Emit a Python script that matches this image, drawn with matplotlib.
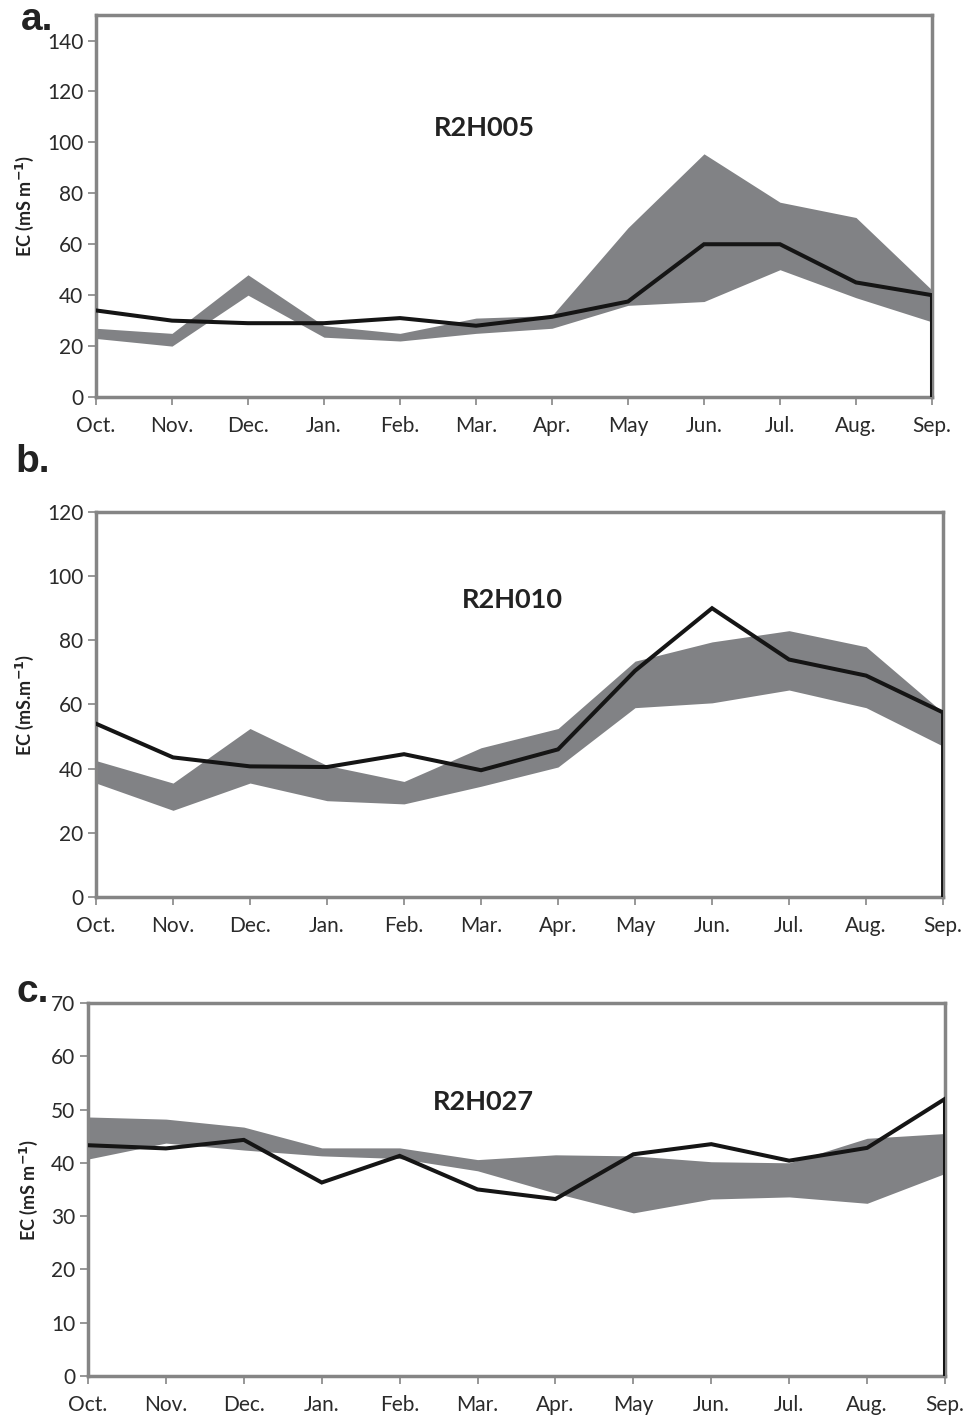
import matplotlib
matplotlib.use("Agg")
import matplotlib.pyplot as plt
import numpy as np

plt.rcParams['font.family'] = ['Lato', 'DejaVu Sans']

months = ["Oct.", "Nov.", "Dec.", "Jan.", "Feb.", "Mar.", "Apr.", "May", "Jun.", "Jul.", "Aug.", "Sep."]

# R2H005
a_low = [23, 20, 40, 23.5, 22, 25, 27, 36, 37.5, 50, 39, 29.5]
a_high = [27, 25, 48, 28, 25, 31, 32, 66.5, 95.5, 76.5, 70.5, 42]
a_obs = [34, 30, 29, 29, 31, 28, 31.5, 37.5, 60, 60, 45, 40]

# R2H010
b_low = [35.5, 27, 35.5, 30, 29, 34.5, 40.5, 59, 60.5, 64.5, 59, 47]
b_high = [42.5, 35.5, 52.5, 41, 36, 46.5, 52.5, 73.5, 79.5, 83, 78, 57.5]
b_obs = [54, 43.5, 40.7, 40.5, 44.5, 39.5, 46, 70.5, 90, 74, 69, 57.5]

# R2H027
c_low = [40.7, 43.7, 42.4, 41.3, 40.8, 38.5, 34.3, 30.6, 33.2, 33.6, 32.4, 38]
c_high = [48.6, 48.2, 46.7, 42.8, 42.8, 40.6, 41.5, 41.3, 40.2, 40, 44.6, 45.5]
c_obs = [43.3, 42.7, 44.3, 36.3, 41.3, 35, 33.2, 41.6, 43.5, 40.4, 42.8, 52]

panels = [
    dict(rect=[0.0997, 0.7206, 0.8681, 0.2688], low=a_low, high=a_high, obs=a_obs,
         ymax=150, ticks=np.arange(0, 141, 20), ylabel="EC (mS m$^{\\mathbf{-1}}$)",
         name="R2H005", name_xy=(0.465, 0.705), tag="a.", tag_xy=(0.022, 0.979)),
    dict(rect=[0.0997, 0.3688, 0.8796, 0.2709], low=b_low, high=b_high, obs=b_obs,
         ymax=120, ticks=np.arange(0, 121, 20), ylabel="EC (mS.m$^{\\mathbf{-1}}$)",
         name="R2H010", name_xy=(0.492, 0.772), tag="b.", tag_xy=(0.016, 0.668)),
    dict(rect=[0.0914, 0.0317, 0.8899, 0.2625], low=c_low, high=c_high, obs=c_obs,
         ymax=70, ticks=np.arange(0, 71, 10), ylabel="EC (mS m$^{\\mathbf{-1}}$)",
         name="R2H027", name_xy=(0.461, 0.735), tag="c.", tag_xy=(0.017, 0.295)),
]

fig = plt.figure(figsize=(9.63, 14.21), dpi=100)
spine_col = "#858585"
band_col = "#818285"
x = np.arange(len(months))

for p in panels:
    ax = fig.add_axes(p["rect"])
    ax.fill_between(x, p["low"], p["high"], color=band_col, linewidth=0, zorder=2)
    # observed series, closed down to the axis at the last month
    ox = np.append(x, x[-1])
    oy = np.append(p["obs"], 0)
    ax.plot(ox, oy, color="#151515", linewidth=2.9, zorder=4, solid_joinstyle="miter")
    ax.set_xlim(0, len(months) - 1)
    ax.set_ylim(0, p["ymax"])
    ax.set_xticks(x)
    ax.set_xticklabels(months)
    ax.set_yticks(p["ticks"])
    for s in ax.spines.values():
        s.set_color(spine_col)
        s.set_linewidth(2.5)
        s.set_zorder(3)
    ax.tick_params(axis="both", colors=spine_col, width=1.2, length=6,
                   labelcolor="#2a2a2a", labelsize=15, direction="out")
    ax.tick_params(axis="x", pad=8)
    ax.tick_params(axis="y", pad=3)
    ax.set_ylabel(p["ylabel"], fontsize=13, fontweight="bold", color="#222222", labelpad=8)
    ax.text(p["name_xy"][0], p["name_xy"][1], p["name"], transform=ax.transAxes,
            ha="center", va="center", fontsize=19.5, fontweight="bold", color="#222222")
    fig.text(p["tag_xy"][0], p["tag_xy"][1], p["tag"], ha="left", va="baseline",
             fontsize=28, fontweight="bold", color="#222222",
             family=["Liberation Sans", "DejaVu Sans"])

fig.savefig("out.png", dpi=100)
